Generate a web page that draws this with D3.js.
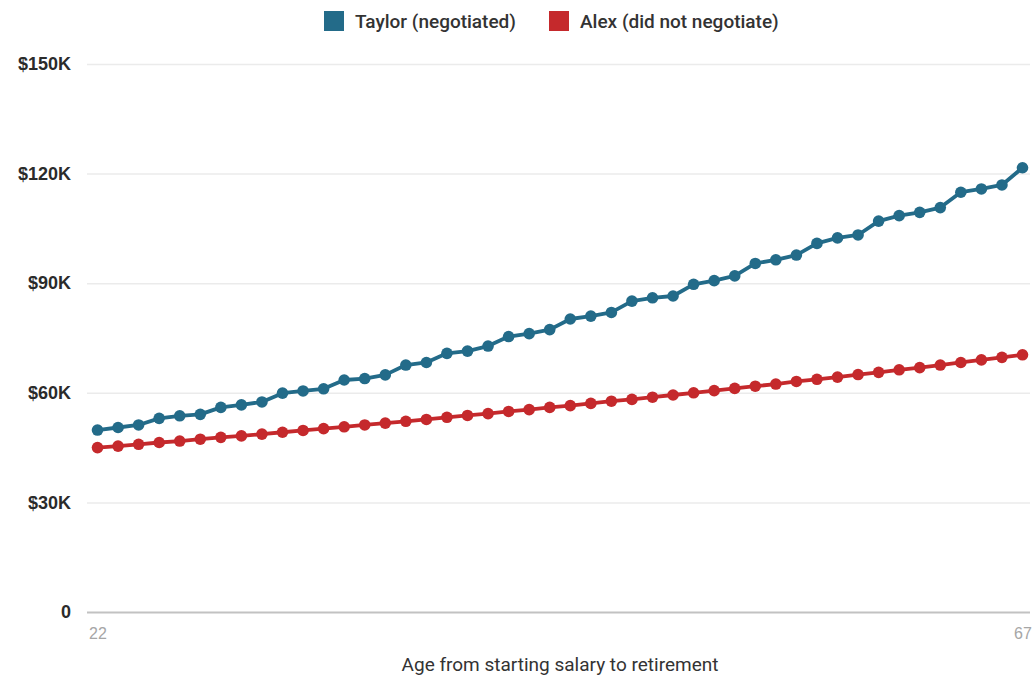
<!DOCTYPE html>
<html>
<head>
<meta charset="utf-8">
<script src="https://cdn.jsdelivr.net/npm/d3@7"></script>
<style>
  html, body { margin: 0; padding: 0; background: #fff; }
  svg { display: block; font-family: Roboto, "Noto Sans", sans-serif; }
</style>
</head>
<body>
<svg id="chart" width="1034" height="678"></svg>
<script>
// Ages from first salary to retirement
const ages = d3.range(22, 68);

// Annual salary, thousands of dollars
const taylorSalary = [
  49.8, 50.5, 51.2, 53.0, 53.7, 54.1, 56.0, 56.7, 57.5, 59.9,
  60.5, 61.1, 63.5, 63.9, 64.9, 67.6, 68.3, 70.8, 71.4, 72.8,
  75.4, 76.2, 77.3, 80.2, 81.0, 82.0, 85.1, 86.0, 86.5, 89.7,
  90.7, 92.0, 95.4, 96.4, 97.7, 100.9, 102.4, 103.2, 107.0, 108.5,
  109.4, 110.7, 114.9, 115.8, 116.9, 121.6
];
const alexSalary = [
  45.0, 45.4, 45.9, 46.4, 46.8, 47.3, 47.8, 48.2, 48.7, 49.2,
  49.7, 50.2, 50.7, 51.2, 51.7, 52.2, 52.7, 53.3, 53.8, 54.3,
  54.9, 55.4, 56.0, 56.5, 57.1, 57.7, 58.2, 58.8, 59.4, 60.0,
  60.6, 61.2, 61.8, 62.4, 63.1, 63.7, 64.3, 65.0, 65.6, 66.3,
  66.9, 67.6, 68.3, 69.0, 69.7, 70.4
];

const seriesNames = ["Taylor (negotiated)", "Alex (did not negotiate)"];
const seriesColors = ["#236b89", "#c5292c"];
const yTicks = [0, 30, 60, 90, 120, 150];
const xTickLabels = [22, 67];
const xTitle = "Age from starting salary to retirement";

const series = [
  { name: seriesNames[0], color: seriesColors[0], values: taylorSalary },
  { name: seriesNames[1], color: seriesColors[1], values: alexSalary }
];

const svg = d3.select("#chart");

const x = d3.scaleLinear().domain([22, 67]).range([97.5, 1022.5]);
const y = d3.scaleLinear().domain([0, 150]).range([612, 64]);

// Horizontal gridlines with dollar labels
const yAxis = d3.axisLeft(y)
  .tickValues(yTicks)
  .tickSize(-943)
  .tickPadding(16)
  .tickFormat(d => d === 0 ? "0" : `$${d}K`);

const gy = svg.append("g")
  .attr("transform", "translate(87,0)")
  .call(yAxis);
gy.select(".domain").remove();
gy.selectAll(".tick line")
  .attr("stroke", d => d === 0 ? "#c2c2c2" : "#ebebeb")
  .attr("stroke-width", d => d === 0 ? 2 : 1.5);
gy.selectAll(".tick text")
  .attr("fill", "#2b2b2b")
  .attr("font-size", 18)
  .attr("font-weight", 600);

// Bottom axis: only the first and last age
const xAxis = d3.axisBottom(x).tickValues(xTickLabels).tickSize(0).tickPadding(16);
const gx = svg.append("g")
  .attr("transform", "translate(0,612)")
  .call(xAxis);
gx.select(".domain").remove();
gx.selectAll(".tick text")
  .attr("fill", "#a6a6a6")
  .attr("font-size", 16)
  .attr("font-weight", 500);

svg.append("text")
  .attr("x", 560)
  .attr("y", 671)
  .attr("text-anchor", "middle")
  .attr("fill", "#333")
  .attr("font-size", 19)
  .text(xTitle);

// Lines with markers
const line = d3.line()
  .x((d, i) => x(ages[i]))
  .y(d => y(d));

const g = svg.append("g");
series.forEach(s => {
  g.append("path")
    .datum(s.values)
    .attr("fill", "none")
    .attr("stroke", s.color)
    .attr("stroke-width", 3.8)
    .attr("stroke-linejoin", "round")
    .attr("d", line);
  g.selectAll(null)
    .data(s.values)
    .join("circle")
    .attr("cx", (d, i) => x(ages[i]))
    .attr("cy", d => y(d))
    .attr("r", 5.8)
    .attr("fill", s.color);
});

// Legend
const legendItems = [
  { name: seriesNames[0], color: seriesColors[0], x: 324 },
  { name: seriesNames[1], color: seriesColors[1], x: 549 }
];
const legend = svg.append("g");
legendItems.forEach(item => {
  legend.append("rect")
    .attr("x", item.x)
    .attr("y", 11)
    .attr("width", 20)
    .attr("height", 20)
    .attr("fill", item.color);
  legend.append("text")
    .attr("x", item.x + 31)
    .attr("y", 28)
    .attr("fill", "#333")
    .attr("font-size", 19)
    .attr("font-weight", 500)
    .text(item.name);
});
</script>
</body>
</html>
